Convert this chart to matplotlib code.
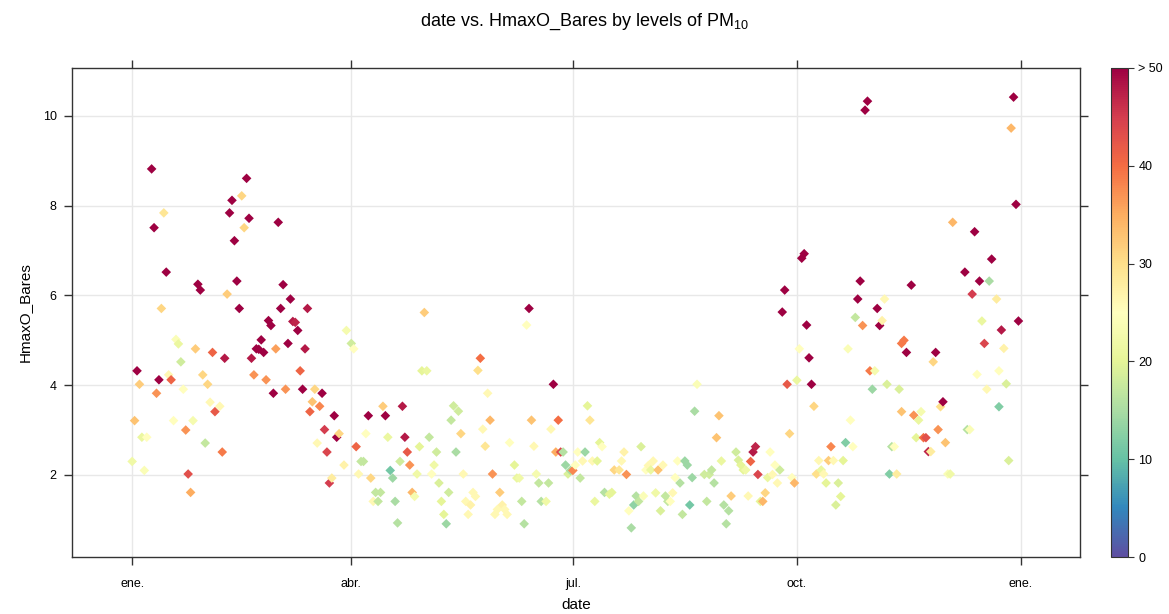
import numpy as np
import matplotlib.pyplot as plt
import matplotlib.dates as mdates
from matplotlib.colors import Normalize

plt.rcParams['font.family'] = ['Liberation Sans', 'DejaVu Sans']
plt.rcParams['mathtext.fontset'] = 'custom'
plt.rcParams['mathtext.rm'] = 'Liberation Sans'

#=====================
# DATA
#=====================
# day of year, HmaxO_Bares value, PM10 level
day = [0, 1, 2, 3, 4, 5, 6, 8, 9, 10, 11, 12, 13, 14, 15, 16, 17, 18, 19, 20,
       21, 22, 23, 24, 25, 26, 27, 28, 29, 30, 31, 32, 33, 34, 36, 37, 38, 39, 40, 41,
       42, 43, 44, 45, 46, 47, 48, 49, 50, 51, 52, 53, 54, 55, 56, 57, 58, 59, 60, 61,
       62, 63, 64, 65, 66, 67, 68, 69, 70, 71, 72, 73, 74, 75, 76, 77, 78, 79, 80, 81,
       82, 83, 84, 85, 87, 88, 90, 91, 92, 93, 94, 95, 96, 97, 98, 99, 100, 101, 102, 103,
       104, 105, 106, 107, 108, 109, 110, 111, 112, 113, 114, 115, 116, 117, 118, 119, 120, 121, 122, 123,
       124, 125, 126, 127, 128, 129, 130, 131, 132, 133, 134, 135, 136, 137, 138, 139, 140, 141, 142, 143,
       144, 145, 146, 147, 148, 149, 150, 151, 152, 153, 154, 155, 157, 158, 159, 160, 161, 162, 163, 164,
       165, 166, 167, 168, 170, 171, 172, 173, 174, 175, 176, 177, 178, 179, 180, 181, 182, 183, 184, 185,
       186, 187, 188, 189, 190, 191, 192, 193, 194, 196, 197, 198, 200, 201, 202, 203, 204, 205, 206, 207,
       208, 209, 210, 211, 212, 213, 214, 215, 216, 217, 218, 219, 220, 221, 222, 223, 224, 225, 226, 227,
       228, 229, 230, 231, 232, 235, 236, 237, 238, 239, 240, 241, 242, 243, 244, 245, 246, 248, 249, 250,
       251, 252, 253, 254, 255, 256, 257, 258, 259, 260, 261, 262, 263, 264, 265, 266, 267, 268, 269, 270,
       271, 272, 273, 274, 275, 276, 277, 278, 279, 280, 281, 282, 283, 284, 285, 286, 287, 288, 289, 290,
       291, 292, 293, 294, 295, 296, 297, 298, 299, 300, 301, 302, 303, 304, 305, 306, 307, 308, 309, 310,
       311, 312, 313, 314, 315, 316, 316, 317, 318, 320, 321, 322, 323, 324, 325, 326, 327, 328, 329, 330,
       331, 332, 333, 334, 335, 336, 337, 342, 343, 344, 345, 346, 347, 348, 349, 350, 351, 352, 353, 355,
       356, 356, 357, 358, 359, 360, 361, 362, 363, 364]

hmax = [2.30, 3.21, 4.32, 4.02, 2.84, 2.10, 2.84, 8.82, 7.51, 3.82, 4.12, 5.71, 7.84, 6.52, 4.23, 4.12, 3.21, 5.02, 4.92, 4.52,
        3.91, 3.00, 2.02, 1.61, 3.21, 4.81, 6.25, 6.12, 4.23, 2.71, 4.02, 3.62, 4.73, 3.41, 3.53, 2.51, 4.60, 6.03, 7.84, 8.12,
        7.22, 6.32, 5.71, 8.22, 7.51, 8.61, 7.72, 4.60, 4.23, 4.81, 4.80, 5.01, 4.73, 4.12, 5.44, 5.33, 3.82, 4.81, 7.63, 5.71,
        6.24, 3.91, 4.93, 5.92, 5.42, 5.40, 5.22, 4.32, 3.91, 4.81, 5.71, 3.41, 3.63, 3.91, 2.71, 3.53, 3.82, 3.01, 2.51, 1.82,
        1.93, 3.32, 2.84, 2.92, 2.22, 5.22, 4.93, 4.81, 2.63, 2.02, 2.30, 2.30, 2.92, 3.32, 1.93, 1.41, 1.61, 1.41, 1.61, 3.53,
        3.32, 2.84, 2.10, 1.93, 1.41, 0.93, 2.30, 3.53, 2.84, 2.51, 2.22, 1.61, 1.52, 2.02, 2.63, 4.32, 5.62, 4.32, 2.84, 2.02,
        2.22, 2.51, 1.82, 1.41, 1.12, 0.91, 1.61, 3.22, 3.54, 2.51, 3.42, 2.92, 2.02, 1.41, 1.12, 1.33, 1.61, 1.52, 4.33, 4.60,
        3.02, 2.64, 3.82, 3.22, 2.02, 1.12, 1.23, 1.61, 1.33, 1.23, 1.12, 2.72, 2.22, 1.93, 1.93, 1.41, 0.91, 5.34, 5.71, 3.22,
        2.64, 2.02, 1.82, 1.41, 1.41, 1.82, 3.02, 4.02, 2.51, 3.22, 2.51, 2.51, 2.22, 2.02, 2.10, 2.10, 2.22, 2.51, 1.93, 2.31,
        2.51, 3.54, 3.22, 2.31, 1.41, 2.31, 2.72, 2.63, 1.61, 1.57, 1.61, 2.11, 2.11, 2.31, 2.51, 2.01, 1.20, 0.82, 1.33, 1.53,
        1.41, 2.63, 1.53, 2.11, 2.21, 2.11, 2.31, 1.60, 2.11, 1.20, 2.22, 1.53, 1.41, 1.41, 1.60, 1.94, 2.31, 1.82, 1.12, 2.31,
        2.22, 1.33, 1.94, 3.42, 4.02, 2.01, 1.41, 2.01, 2.11, 1.82, 2.83, 3.32, 2.31, 1.33, 0.91, 1.20, 1.53, 2.51, 2.33, 2.22,
        2.11, 2.11, 1.53, 2.30, 2.51, 2.63, 2.01, 1.41, 1.41, 1.60, 1.94, 2.51, 2.01, 2.22, 1.82, 2.11, 5.63, 6.12, 4.02, 2.92,
        1.94, 1.82, 4.11, 4.81, 6.83, 6.93, 5.34, 4.61, 4.02, 3.53, 2.02, 2.32, 2.11, 2.02, 1.82, 2.32, 2.63, 2.32, 1.33, 1.82,
        1.52, 2.32, 2.72, 4.81, 3.22, 2.63, 5.51, 5.92, 6.32, 5.33, 10.13, 10.33, 4.32, 3.91, 4.32, 5.71, 5.33, 5.44, 5.92, 4.02,
        2.02, 2.63, 2.63, 2.02, 3.91, 4.93, 3.41, 5.00, 4.73, 6.23, 3.33, 2.83, 3.22, 3.41, 2.83, 2.83, 2.52, 2.52, 4.52, 4.73,
        3.01, 3.52, 3.63, 2.72, 2.02, 2.02, 7.63, 6.52, 3.01, 3.01, 6.03, 7.42, 4.24, 6.32, 5.43, 4.93, 3.91, 6.32, 6.81, 5.92,
        4.32, 3.52, 5.23, 4.82, 4.03, 2.32, 9.73, 10.42, 8.03, 5.43]

pm10 = [22, 33, 60, 32, 21, 24, 25, 60, 60, 37, 60, 31, 29, 60, 26, 41, 25, 24, 21, 18,
        25, 37, 43, 35, 23, 32, 60, 60, 31, 17, 31, 26, 41, 42, 26, 39, 48, 32, 60, 60,
        60, 60, 60, 31, 31, 60, 60, 48, 37, 60, 60, 60, 60, 37, 60, 60, 60, 36, 60, 60,
        60, 37, 60, 60, 48, 47, 60, 41, 60, 48, 48, 41, 33, 31, 26, 38, 60, 45, 44, 45,
        28, 60, 60, 31, 27, 23, 18, 25, 41, 26, 17, 17, 25, 60, 31, 26, 17, 17, 17, 32,
        60, 21, 11, 14, 15, 16, 18, 48, 48, 42, 37, 34, 23, 22, 20, 20, 32, 21, 17, 25,
        22, 18, 19, 20, 20, 14, 18, 17, 18, 15, 18, 31, 26, 26, 26, 27, 26, 26, 30, 40,
        26, 29, 26, 34, 37, 26, 26, 32, 27, 26, 26, 25, 20, 21, 22, 17, 16, 25, 60, 33,
        26, 23, 17, 16, 22, 17, 26, 60, 35, 40, 44, 16, 14, 19, 15, 38, 25, 25, 17, 26,
        14, 20, 29, 26, 21, 20, 20, 25, 16, 20, 20, 31, 29, 26, 27, 37, 25, 15, 13, 16,
        17, 19, 24, 25, 26, 21, 26, 22, 33, 19, 26, 17, 17, 25, 26, 25, 25, 16, 17, 14,
        14, 11, 14, 15, 24, 18, 17, 18, 17, 16, 33, 33, 21, 16, 16, 16, 32, 18, 19, 20,
        20, 22, 26, 41, 48, 47, 44, 20, 34, 31, 21, 25, 26, 25, 26, 18, 60, 60, 42, 31,
        25, 34, 21, 25, 60, 60, 60, 52, 60, 31, 30, 26, 21, 26, 20, 32, 38, 26, 19, 19,
        20, 20, 12, 24, 25, 25, 17, 60, 60, 37, 60, 60, 39, 14, 23, 60, 60, 27, 26, 19,
        12, 16, 25, 28, 19, 39, 33, 39, 60, 60, 37, 20, 21, 23, 40, 43, 47, 28, 31, 60,
        37, 30, 60, 33, 24, 22, 34, 60, 16, 24, 45, 60, 25, 60, 21, 44, 26, 15, 60, 28,
        25, 12, 48, 27, 19, 19, 34, 60, 60, 60]

tick_dates = ['2013-01-01', '2013-04-01', '2013-07-01', '2013-10-01', '2014-01-01']
tick_labels = ['ene.', 'abr.', 'jul.', 'oct.', 'ene.']
cbar_ticks = [0, 10, 20, 30, 40, 50]
cbar_labels = ['0', '10', '20', '30', '40', '> 50']

dates = np.datetime64('2013-01-01') + np.array(day).astype('timedelta64[D]')

#=====================
# PLOT
#=====================
fig = plt.figure(figsize=(11.69, 6.14), dpi=100)
ax = fig.add_axes([0.0616, 0.0928, 0.8623, 0.7965])
cax = fig.add_axes([0.9504, 0.0928, 0.0145, 0.7965])

cmap = plt.get_cmap('Spectral_r')
norm = Normalize(vmin=0, vmax=50)
sc = ax.scatter(dates, hmax, c=np.clip(pm10, 0, 50), cmap=cmap, norm=norm,
                marker='D', s=24, linewidths=0, zorder=3)

start = np.datetime64('2013-01-01')
ax.set_xlim(mdates.date2num(start) - 24.7, mdates.date2num(start) + 365 + 24.3)
ax.set_ylim(0.17, 11.07)

ax.set_xticks(mdates.date2num(np.array(tick_dates, dtype='datetime64[D]')))
ax.set_xticklabels(tick_labels)
ax.set_yticks([2, 4, 6, 8, 10])
ax.tick_params(axis='both', direction='out', length=6, width=1, color='#333333',
               labelsize=9, top=True, right=True, pad=9)
ax.tick_params(axis='y', pad=5)
ax.grid(True, color='#e8e8e8', linewidth=1, zorder=0)
ax.set_axisbelow(True)
for sp in ax.spines.values():
    sp.set_color('#333333')
    sp.set_linewidth(1)

ax.set_xlabel('date', fontsize=11, labelpad=6)
ax.set_ylabel('HmaxO_Bares', fontsize=11, labelpad=8)

cb = fig.colorbar(sc, cax=cax)
cb.set_ticks(cbar_ticks)
cb.set_ticklabels(cbar_labels)
cb.ax.tick_params(length=4, labelsize=9, direction='out', color='#333333')
cb.outline.set_edgecolor('#333333')

fig.text(0.5, 0.965, r'date vs. HmaxO_Bares by levels of PM$_{\mathrm{10}}$',
         ha='center', va='center', fontsize=13)

plt.savefig('out.png', dpi=100)
